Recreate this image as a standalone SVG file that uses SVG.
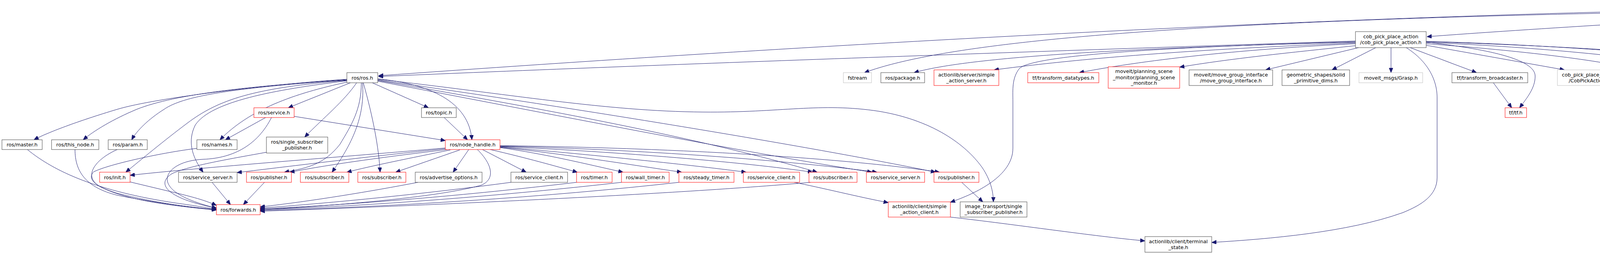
<svg xmlns="http://www.w3.org/2000/svg" width="5369" height="648" viewBox="0 0 5369 648">
<style>
rect{fill:#fff;stroke-width:1}
.k{stroke:#404040}
.r{stroke:#ff0000}
.g{stroke:#bfbfbf}
.root{fill:#bfbfbf;stroke:#404040}
text{font-family:"DejaVu Sans",sans-serif;font-size:12.7px;fill:#000;text-anchor:middle}
#edges path{fill:none;stroke:#191970;stroke-width:1;marker-end:url(#a)}
</style>
<defs>
<marker id="a" markerWidth="12" markerHeight="10" refX="12" refY="5" orient="auto" markerUnits="userSpaceOnUse">
<path d="M0,0 L12,5 L0,10 z" fill="#191970" stroke="#191970"/>
</marker>
</defs>
<rect x="0" y="0" width="5369" height="648" style="fill:#fff;stroke:none"/>
<g id="edges">
<path d="M4756,26 C4400,45 3900,75 3653,94"/>
<path d="M4756,19 C3500,30 2000,120 969,194"/>
<path d="M4756,23 C3400,40 2500,80 2213,186"/>
<path d="M4845,31 L4823,89"/>
<path d="M4828,31 C4740,70 4745,130 4740,170 C4733,220 4700,250 4673,276"/>
<path d="M4853,31 C4875,130 4895,210 4920,235 C4935,250 4955,265 4975,276"/>
<path d="M4862,31 L4997,179"/>
<path d="M4883,31 L5016,81"/>
<path d="M4947,21 C5080,28 5180,80 5260,179"/>
<path d="M4944,31 C5050,45 5150,65 5245,89"/>
<path d="M3470,105 C3000,120 1800,160 969,196"/>
<path d="M3470,108 C3000,120 2500,140 2340,186"/>
<path d="M3470,110 C3100,125 2800,145 2545,179"/>
<path d="M3470,112 C3200,125 2950,150 2763,186"/>
<path d="M3470,117 C3300,135 3150,150 3020,172"/>
<path d="M3478,122 L3240,179"/>
<path d="M3522,122 L3410,179"/>
<path d="M3561,122 L3561,186"/>
<path d="M3610,122 L3780,186"/>
<path d="M3651,108 C3800,125 3930,150 3930,195 C3930,225 3910,250 3890,276"/>
<path d="M3651,116 L4005,179"/>
<path d="M3651,112 C3900,130 4100,155 4195,179"/>
<path d="M3651,109 C3900,118 4200,145 4385,179"/>
<path d="M3651,106 C4000,115 4450,150 4625,186"/>
<path d="M3651,107 C4100,120 4480,150 4540,175 C4580,195 4590,230 4637,276"/>
<path d="M3470,107 C3000,120 2650,140 2610,175 C2590,200 2593,230 2593,260 L2593,380 C2593,450 2500,495 2433,518"/>
<path d="M3600,122 C3660,160 3679,210 3679,250 L3679,455 C3679,500 3640,525 3590,545 C3450,595 3250,612 3102,621"/>
<path d="M888,203 C700,215 400,250 300,280 C200,310 120,340 87,358"/>
<path d="M888,204 C650,220 450,240 350,280 C290,305 240,335 213,358"/>
<path d="M888,205 C600,225 470,245 420,280 C380,305 350,335 337,358"/>
<path d="M888,206 C650,225 560,255 480,315 C420,360 360,410 322,441"/>
<path d="M890,210 C750,240 640,280 563,358"/>
<path d="M897,212 L738,276"/>
<path d="M888,207 C700,230 540,260 500,320 C480,360 490,400 520,441"/>
<path d="M913,212 C880,260 830,300 780,351"/>
<path d="M925,212 C925,280 900,320 870,370 C830,420 790,430 728,441"/>
<path d="M928,212 C935,300 900,370 850,441"/>
<path d="M930,212 C955,300 970,380 973,441"/>
<path d="M953,212 L1097,276"/>
<path d="M967,202 C1100,215 1200,260 1208,358"/>
<path d="M1137,301 L1197,358"/>
<path d="M967,203 C1300,240 1550,285 1800,287 C2000,289 2100,262 2250,285 C2400,310 2480,380 2515,430 C2535,460 2543,490 2543,517"/>
<path d="M967,205 C1500,280 2100,380 2395,441"/>
<path d="M967,206 C1400,280 1800,355 2092,441"/>
<path d="M967,208 C1400,290 1900,390 2232,441"/>
<path d="M1140,379 C900,400 500,430 333,449"/>
<path d="M1140,381 C950,400 750,425 607,442"/>
<path d="M1145,383 C1000,400 850,420 742,441"/>
<path d="M1153,384 C1050,405 950,425 888,441"/>
<path d="M1177,384 L1013,441"/>
<path d="M1200,383 L1160,441"/>
<path d="M1222,383 C1260,420 1270,460 1230,475 C1100,510 800,530 666,537"/>
<path d="M1235,383 L1347,441"/>
<path d="M1255,383 C1350,405 1420,425 1478,441"/>
<path d="M1280,378 C1400,395 1500,420 1595,441"/>
<path d="M1280,377 C1450,395 1600,420 1745,441"/>
<path d="M1280,376 C1500,395 1750,420 1910,441"/>
<path d="M1280,375 C1600,390 1900,415 2080,441"/>
<path d="M1280,374 C1700,385 2050,415 2245,441"/>
<path d="M1280,373 C1800,380 2200,410 2405,441"/>
<path d="M680,301 L577,358"/>
<path d="M753,298 L1140,360"/>
<path d="M695,301 C660,370 600,405 520,408 C470,410 430,430 428,458 C428,490 480,515 554,533"/>
<path d="M70,383 C140,440 250,490 450,520 C500,527 530,532 554,536"/>
<path d="M192,383 C192,440 220,480 300,500 C400,520 480,530 554,537"/>
<path d="M300,383 C240,410 210,455 260,480 C330,515 450,528 554,538"/>
<path d="M504,380 C420,390 280,420 240,440 C220,460 250,480 300,495 C400,520 480,530 554,537"/>
<path d="M333,466 L450,494 C500,506 530,515 554,526"/>
<path d="M682,390 C600,405 480,425 440,445 C400,470 430,500 500,520 C520,526 540,530 554,533"/>
<path d="M543,467 L590,524"/>
<path d="M677,467 L623,524"/>
<path d="M1070,467 C950,490 800,515 666,530"/>
<path d="M1308,467 C1100,495 850,520 666,533"/>
<path d="M1476,467 C1200,500 900,525 666,535"/>
<path d="M1591,467 C1300,500 950,528 666,537"/>
<path d="M1738,467 C1400,505 1000,530 666,539"/>
<path d="M2075,467 C1700,500 1000,530 666,541"/>
<path d="M2033,467 C2100,480 2200,505 2274,519"/>
<path d="M2462,467 L2516,517"/>
<path d="M2433,556 C2600,575 2800,605 2931,617"/>
<path d="M3823,212 L3870,276"/>
<path d="M4654,212 L4654,276"/>
<path d="M5056,122 L5027,179"/>
<path d="M5086,122 C5130,160 5135,200 5120,230 C5105,255 5080,265 5055,276"/>
<path d="M5109,122 L5229,179"/>
<path d="M5015,219 L5015,276"/>
</g>
<g id="n0"><rect class="root" x="4756" y="6" width="191" height="25"/><text x="4851.5" y="23">cob_pick_place_action.cpp</text></g>
<g id="n1"><rect class="k" x="3470" y="81" width="181" height="41"/><text x="3560.5" y="97.5">cob_pick_place_action</text><text x="3560.5" y="112.5">/cob_pick_place_action.h</text></g>
<g id="n2"><rect class="g" x="4781" y="89" width="68" height="25"/><text x="4815" y="106">math.h</text></g>
<g id="n3"><rect class="k" x="4976" y="81" width="183" height="41"/><text x="5067.5" y="97.5">geometric_shapes/shape</text><text x="5067.5" y="112.5">_operations.h</text></g>
<g id="n4"><rect class="g" x="5234" y="89" width="83" height="25"/><text x="5275.5" y="106">algorithm</text></g>
<g id="n5"><rect class="k" x="888" y="186" width="79" height="26"/><text x="927.5" y="203.5">ros/ros.h</text></g>
<g id="n6"><rect class="g" x="2159" y="186" width="72" height="26"/><text x="2195" y="203.5">fstream</text></g>
<g id="n7"><rect class="k" x="2255" y="186" width="112" height="26"/><text x="2311" y="203.5">ros/package.h</text></g>
<g id="n8"><rect class="r" x="2391" y="179" width="166" height="40"/><text x="2474" y="195.5">actionlib/server/simple</text><text x="2474" y="210.5">_action_server.h</text></g>
<g id="n9"><rect class="r" x="2631" y="186" width="182" height="26"/><text x="2722" y="203.5">tf/transform_datatypes.h</text></g>
<g id="n10"><rect class="r" x="2837" y="171" width="183" height="55"/><text x="2928.5" y="187">moveit/planning_scene</text><text x="2928.5" y="202.5">_monitor/planning_scene</text><text x="2928.5" y="217">_monitor.h</text></g>
<g id="n11"><rect class="k" x="3044" y="179" width="214" height="40"/><text x="3151" y="195.5">moveit/move_group_interface</text><text x="3151" y="210.5">/move_group_interface.h</text></g>
<g id="n12"><rect class="k" x="3282" y="179" width="173" height="40"/><text x="3368.5" y="195.5">geometric_shapes/solid</text><text x="3368.5" y="210.5">_primitive_dims.h</text></g>
<g id="n13"><rect class="g" x="3479" y="186" width="163" height="26"/><text x="3560.5" y="203.5">moveit_msgs/Grasp.h</text></g>
<g id="n14"><rect class="k" x="3717" y="186" width="194" height="26"/><text x="3814" y="203.5">tf/transform_broadcaster.h</text></g>
<g id="n15"><rect class="g" x="3987" y="179" width="164" height="40"/><text x="4069" y="195.5">cob_pick_place_action</text><text x="4069" y="210.5">/CobPickAction.h</text></g>
<g id="n16"><rect class="g" x="4174" y="179" width="165" height="40"/><text x="4256.5" y="195.5">cob_pick_place_action</text><text x="4256.5" y="210.5">/CobPlaceAction.h</text></g>
<g id="n17"><rect class="g" x="4362" y="179" width="164" height="40"/><text x="4444" y="195.5">cob_grasp_generation</text><text x="4444" y="210.5">/QueryGraspsAction.h</text></g>
<g id="n18"><rect class="r" x="4602" y="186" width="104" height="26"/><text x="4654" y="203.5">GraspTable.h</text></g>
<g id="n19"><rect class="k" x="4925" y="179" width="180" height="40"/><text x="5015" y="195.5">geometric_shapes/mesh</text><text x="5015" y="210.5">_operations.h</text></g>
<g id="n20"><rect class="k" x="5181" y="179" width="183" height="40"/><text x="5272.5" y="195.5">geometric_shapes/shape</text><text x="5272.5" y="210.5">_messages.h</text></g>
<g id="n21"><rect class="r" x="650" y="276" width="103" height="25"/><text x="701.5" y="293">ros/service.h</text></g>
<g id="n22"><rect class="k" x="1079" y="276" width="89" height="25"/><text x="1123.5" y="293">ros/topic.h</text></g>
<g id="n23"><rect class="r" x="3853" y="276" width="55" height="25"/><text x="3880.5" y="293">tf/tf.h</text></g>
<g id="n24"><rect class="g" x="4614" y="276" width="79" height="25"/><text x="4653.5" y="293">iostream</text></g>
<g id="n25"><rect class="k" x="4913" y="276" width="204" height="25"/><text x="5015" y="293">geometric_shapes/shapes.h</text></g>
<g id="n26"><rect class="k" x="5" y="358" width="103" height="25"/><text x="56.5" y="375">ros/master.h</text></g>
<g id="n27"><rect class="k" x="132" y="358" width="121" height="25"/><text x="192.5" y="375">ros/this_node.h</text></g>
<g id="n28"><rect class="k" x="277" y="358" width="100" height="25"/><text x="327" y="375">ros/param.h</text></g>
<g id="n29"><rect class="k" x="504" y="358" width="103" height="25"/><text x="555.5" y="375">ros/names.h</text></g>
<g id="n30"><rect class="k" x="682" y="351" width="157" height="41"/><text x="760.5" y="367.5">ros/single_subscriber</text><text x="760.5" y="382.5">_publisher.h</text></g>
<g id="n31"><rect class="r" x="1140" y="358" width="140" height="25"/><text x="1210" y="375">ros/node_handle.h</text></g>
<g id="n32"><rect class="r" x="255" y="441" width="78" height="26"/><text x="294" y="458.5">ros/init.h</text></g>
<g id="n33"><rect class="k" x="457" y="441" width="150" height="26"/><text x="532" y="458.5">ros/service_server.h</text></g>
<g id="n34"><rect class="r" x="631" y="441" width="115" height="26"/><text x="688.5" y="458.5">ros/publisher.h</text></g>
<g id="n35"><rect class="r" x="769" y="441" width="124" height="26"/><text x="831" y="458.5">ros/subscriber.h</text></g>
<g id="n36"><rect class="r" x="916" y="441" width="123" height="26"/><text x="977.5" y="458.5">ros/subscriber.h</text></g>
<g id="n37"><rect class="k" x="1063" y="441" width="171" height="26"/><text x="1148.5" y="458.5">ros/advertise_options.h</text></g>
<g id="n38"><rect class="k" x="1308" y="441" width="145" height="26"/><text x="1380.5" y="458.5">ros/service_client.h</text></g>
<g id="n39"><rect class="r" x="1476" y="441" width="91" height="26"/><text x="1521.5" y="458.5">ros/timer.h</text></g>
<g id="n40"><rect class="r" x="1591" y="441" width="122" height="26"/><text x="1652" y="458.5">ros/wall_timer.h</text></g>
<g id="n41"><rect class="r" x="1738" y="441" width="141" height="26"/><text x="1808.5" y="458.5">ros/steady_timer.h</text></g>
<g id="n42"><rect class="r" x="1903" y="441" width="144" height="26"/><text x="1975" y="458.5">ros/service_client.h</text></g>
<g id="n43"><rect class="r" x="2071" y="441" width="123" height="26"/><text x="2132.5" y="458.5">ros/subscriber.h</text></g>
<g id="n44"><rect class="r" x="2218" y="441" width="149" height="26"/><text x="2292.5" y="458.5">ros/service_server.h</text></g>
<g id="n45"><rect class="r" x="2391" y="441" width="115" height="26"/><text x="2448.5" y="458.5">ros/publisher.h</text></g>
<g id="n46"><rect class="r" x="554" y="524" width="112" height="26"/><text x="610" y="541.5">ros/forwards.h</text></g>
<g id="n47"><rect class="r" x="2274" y="517" width="159" height="39"/><text x="2353.5" y="533">actionlib/client/simple</text><text x="2353.5" y="548">_action_client.h</text></g>
<g id="n48"><rect class="k" x="2458" y="517" width="171" height="39"/><text x="2543.5" y="533">image_transport/single</text><text x="2543.5" y="548">_subscriber_publisher.h</text></g>
<g id="n49"><rect class="k" x="2931" y="606" width="171" height="40"/><text x="3016.5" y="622.5">actionlib/client/terminal</text><text x="3016.5" y="637.5">_state.h</text></g>
</svg>
